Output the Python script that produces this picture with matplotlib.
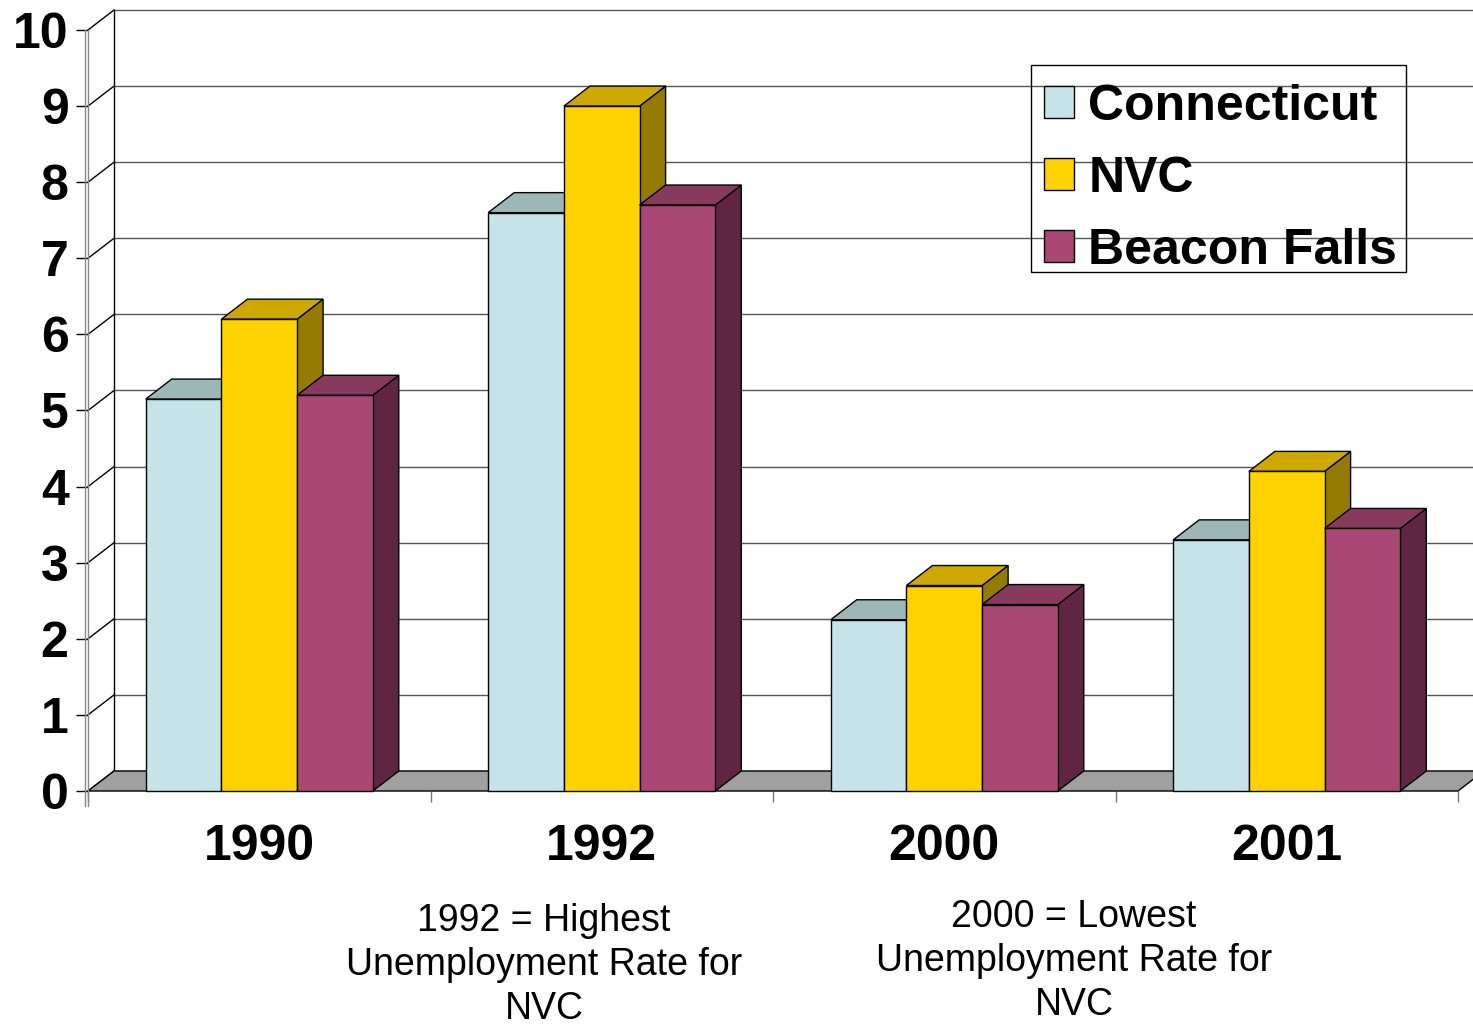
import matplotlib
matplotlib.use("Agg")
import matplotlib.pyplot as plt
from matplotlib.patches import Polygon, Patch, Rectangle

plt.rcParams["font.family"] = ["Liberation Sans", "DejaVu Sans"]

years = ["1990", "1992", "2000", "2001"]
series = ["Connecticut", "NVC", "Beacon Falls"]
connecticut = [5.15, 7.6, 2.25, 3.3]
nvc = [6.2, 9.0, 2.7, 4.2]
beacon_falls = [5.2, 7.7, 2.45, 3.45]
notes = ["1992 = Highest\nUnemployment Rate for\nNVC",
         "2000 = Lowest\nUnemployment Rate for\nNVC"]

# front, top, side shades for each series
colors = {
    "Connecticut": ("#C6E4E8", "#9DB7B9", "#7E9597"),
    "NVC": ("#FFD200", "#CCA800", "#937A00"),
    "Beacon Falls": ("#A94874", "#873A5E", "#5F2543"),
}

W, H = 1473, 1024
fig = plt.figure(figsize=(W / 100, H / 100), dpi=100)
x0px, x1px, y0px, y1px = 88, 1458, 791, 30
ax = fig.add_axes([x0px / W, 1 - y0px / H, (x1px - x0px) / W, (y0px - y1px) / H])
ax.set_xlim(0, 4)
ax.set_ylim(0, 10)

# depth offset of the fake 3d, in data units
DX = 26 / ((x1px - x0px) / 4)
DY = 20 / ((y0px - y1px) / 10)

# back wall gridlines and left wall diagonals
for v in range(11):
    ax.plot([0, DX], [v, v + DY], color="black", lw=1, zorder=1, clip_on=False)
    ax.plot([DX, 4 + DX], [v + DY, v + DY], color="#555555", lw=1, zorder=1,
            clip_on=False)
ax.plot([DX, DX], [DY, 10 + DY], color="black", lw=1, zorder=1, clip_on=False)

# floor
ax.add_patch(Polygon([(0, 0), (4, 0), (4 + DX, DY), (DX, DY)], closed=True,
                     facecolor="#A0A0A0", edgecolor="black", lw=1, zorder=2,
                     clip_on=False))

# front axis drawn as a gray double line
ax.plot([0, 0], [-0.2, 10], color="#888888", lw=1, zorder=2, clip_on=False)
ax.plot([-0.009, -0.009], [-0.2, 10], color="#888888", lw=1, zorder=2, clip_on=False)

w = 0.221
values = [connecticut, nvc, beacon_falls]
for i in range(len(years)):
    for j, name in enumerate(series):
        v = values[j][i]
        front, top, side = colors[name]
        xl = i + 0.5 - 1.5 * w + j * w
        xr = xl + w
        ax.add_patch(Polygon([(xr, 0), (xr, v), (xr + DX, v + DY), (xr + DX, DY)],
                             closed=True, facecolor=side, edgecolor="black",
                             lw=1, zorder=3 + i * 3 + j, clip_on=False))
        ax.add_patch(Polygon([(xl, v), (xr, v), (xr + DX, v + DY), (xl + DX, v + DY)],
                             closed=True, facecolor=top, edgecolor="black",
                             lw=1, zorder=3 + i * 3 + j, clip_on=False))
        ax.bar(xl, v, width=w, align="edge", color=front, edgecolor="black",
               lw=1, zorder=3 + i * 3 + j, clip_on=False)

for s in ax.spines.values():
    s.set_visible(False)

ax.set_yticks(range(11))
ax.set_yticklabels([str(v) for v in range(11)], fontsize=36, fontweight="bold")
ax.tick_params(axis="y", length=9, width=1, pad=5, color="black")

ax.set_xticks([0.5, 1.5, 2.5, 3.5])
ax.set_xticklabels(years, fontsize=36, fontweight="bold")
ax.set_xticks([0, 1, 2, 3, 4], minor=True)
ax.tick_params(axis="x", which="major", length=0, pad=24)
ax.tick_params(axis="x", which="minor", length=8, width=1, color="#777777")

# legend without its own frame; the box is drawn separately
handles = [Patch(facecolor=colors[n][0], edgecolor="black", lw=1) for n in series]
leg = ax.legend(handles, series, loc="upper left",
                bbox_to_anchor=(1031 / W, 1 - 71 / H),
                bbox_transform=fig.transFigure,
                prop={"size": 36, "weight": "bold"},
                handlelength=0.6, handleheight=0.6, handletextpad=0.3,
                labelspacing=0.52, borderpad=0.25, borderaxespad=0,
                frameon=False)
leg.set_zorder(20)
fig.patches.append(Rectangle((1031 / W, 1 - 272 / H), (1406 - 1031) / W,
                             (272 - 65) / H, transform=fig.transFigure,
                             facecolor="none", edgecolor="black", lw=1,
                             zorder=20))

fig.text(544 / W, 1 - 965 / H, notes[0], ha="center", va="center",
         fontsize=27, linespacing=1.27)
fig.text(1074 / W, 1 - 961 / H, notes[1], ha="center", va="center",
         fontsize=27, linespacing=1.27)

fig.savefig("out.png", dpi=100)
